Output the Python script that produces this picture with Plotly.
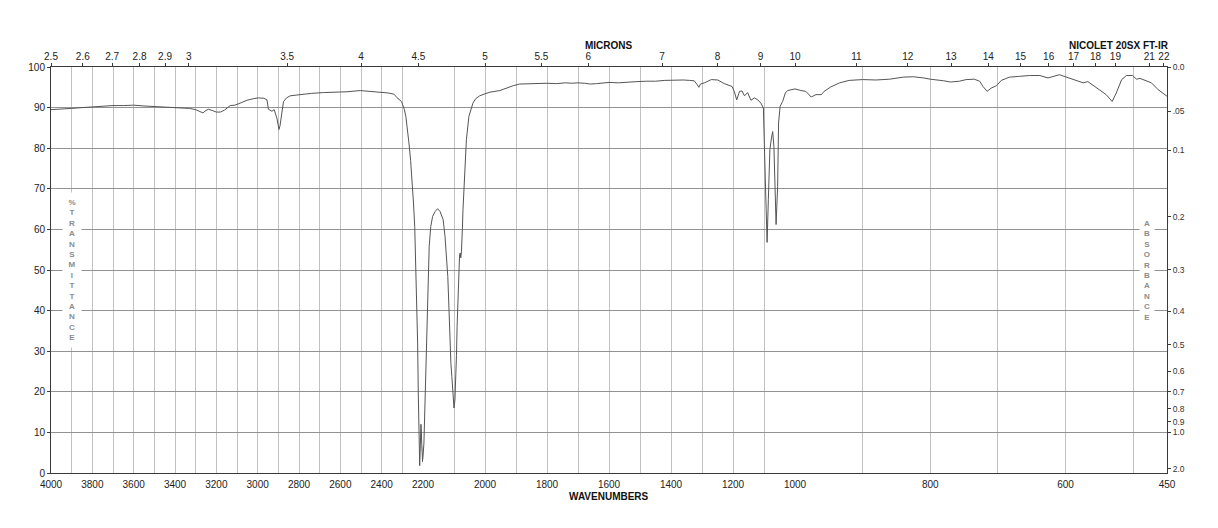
import plotly.graph_objects as go

# ---------------- data ----------------
wavenumbers = [
    4000, 3950, 3900, 3850, 3800, 3750, 3700, 3650, 3600, 3550, 3500, 3450, 3400, 3375,
    3330, 3300, 3280, 3265, 3250, 3238, 3220, 3200, 3180, 3160, 3133, 3110, 3080, 3052,
    3020, 2996, 2970, 2955, 2948, 2938, 2931, 2920, 2912, 2907, 2900, 2897, 2892, 2888,
    2880, 2875, 2860, 2843, 2810, 2778, 2740, 2682, 2620, 2568, 2504, 2450, 2408, 2380,
    2368, 2340, 2327, 2304, 2290, 2283, 2275, 2268, 2260, 2253, 2246, 2240, 2235, 2230,
    2226, 2223, 2220, 2217.5, 2216, 2214, 2212, 2210, 2208.5, 2206, 2204, 2202, 2200,
    2197, 2194, 2191, 2186, 2180, 2175, 2169, 2161, 2153, 2145, 2140, 2135, 2129, 2124,
    2120, 2116, 2113, 2110, 2107, 2103, 2100, 2097, 2095, 2092, 2090, 2087, 2085, 2082,
    2080, 2078, 2076, 2075, 2073, 2071, 2066, 2060, 2052, 2045, 2039, 2030, 2017, 2000,
    1984, 1952, 1931, 1909, 1888, 1860, 1830, 1800, 1770, 1740, 1720, 1700, 1680, 1660,
    1640, 1620, 1600, 1570, 1540, 1510, 1480, 1450, 1420, 1390, 1360, 1340, 1325, 1315,
    1310, 1305, 1292, 1270, 1249, 1228, 1210, 1203, 1196, 1188, 1179, 1171, 1163, 1153,
    1142, 1131, 1120, 1110, 1102, 1098, 1095, 1093, 1090, 1086, 1081, 1076, 1072, 1068,
    1064, 1061, 1056, 1053, 1048, 1040, 1031, 1024, 1000, 991, 984, 976, 969, 961, 957,
    947, 934, 920, 900, 880, 860, 840, 825, 810, 800, 780, 770, 757, 747, 735, 727, 722,
    716, 710, 702, 695, 683, 668, 653, 638, 626, 609, 599, 586, 574, 567, 557, 547, 540,
    531, 525, 517, 510, 501, 495, 490, 480, 473, 463, 450,
]
transmittance = [
    89.5, 89.6, 89.8, 90.0, 90.2, 90.3, 90.5, 90.5, 90.6, 90.4, 90.3, 90.1, 90.0, 89.9,
    89.8, 89.5, 89.0, 88.7, 89.3, 89.6, 89.3, 88.9, 88.9, 89.4, 90.5, 90.6, 91.2, 91.8,
    92.2, 92.4, 92.3, 91.9, 89.6, 89.2, 89.1, 89.5, 88.5, 87.4, 85.5, 84.6, 85.5, 87.0,
    90.0, 91.5, 92.4, 92.9, 93.1, 93.3, 93.5, 93.7, 93.8, 93.9, 94.2, 94.0, 93.8, 93.7,
    93.6, 93.3, 92.5, 91.5, 89.5, 87.8, 85.0, 81.3, 77.0, 72.2, 66.5, 60.7, 52.0, 44.3,
    32.0, 20.0, 9.0, 3.0, 1.8, 5.0, 10.0, 12.0, 11.0, 7.0, 3.5, 2.8, 4.0,
    7.4, 16.0, 27.9, 44.3, 55.8, 60.7, 63.2, 64.4, 65.1, 64.4, 63.5, 62.4, 58.3, 53.0,
    48.4, 40.0, 32.0, 27.0, 23.8, 19.0, 16.0, 18.0, 21.3, 29.0, 36.1, 43.0, 48.4, 53.8,
    54.2, 53.0, 54.5, 55.8, 60.0, 64.9, 74.7, 82.1, 87.8, 89.8, 91.1, 92.2, 92.9, 93.4,
    93.8, 94.2, 94.8, 95.4, 95.8, 95.9, 95.9, 96.0, 95.9, 96.1, 96.0, 96.1, 96.0, 95.8,
    95.9, 96.0, 96.2, 96.1, 96.3, 96.4, 96.5, 96.5, 96.7, 96.8, 96.8, 96.7, 96.6, 95.6,
    95.0, 95.8, 96.1, 96.9, 96.8, 95.9, 95.3, 95.2, 94.0, 91.9, 94.0, 94.1, 92.9, 93.7,
    91.8, 92.4, 91.9, 91.1, 89.9, 81.3, 70.0, 64.9, 56.8, 67.3, 79.6, 82.5, 84.1, 80.4,
    70.6, 61.2, 70.6, 86.2, 90.3, 91.5, 93.6, 94.2, 94.6, 94.2, 94.0, 92.6, 93.2, 93.2, 94.0,
    95.1, 96.1, 96.7, 96.9, 96.8, 97.0, 97.5, 97.6, 97.3, 97.0, 96.6, 96.3, 96.5, 96.9, 97.0, 96.5, 95.2,
    94.0, 94.8, 95.4, 96.7, 97.5, 97.7, 97.9, 97.9, 97.3, 98.1, 97.5, 96.7, 96.1, 96.4, 95.2, 94.0, 93.2,
    91.5, 93.6, 96.9, 97.9, 97.9, 97.0, 97.2, 96.5, 96.1, 94.4, 92.8,
]

# bottom axis: three scale segments (wavenumber ranges)
segments = [(4000, 2200), (2200, 1000), (1000, 450)]
bottom_labels = [[4000, 3800, 3600, 3400, 3200, 3000, 2800, 2600, 2400],
                 [2200, 2000, 1800, 1600, 1400, 1200, 1000],
                 [800, 600, 450]]

# top axis (microns)
micron_ticks = [[2.5, 2.6, 2.7, 2.8, 2.9, 3, 3.5, 4, 4.5],
                [5, 5.5, 6, 7, 8, 9, 10],
                [11, 12, 13, 14, 15, 16, 17, 18, 19, 21, 22]]

# right axis (absorbance)
absorbance_ticks = [0.0, 0.05, 0.1, 0.2, 0.3, 0.4, 0.5, 0.6, 0.7, 0.8, 0.9, 1.0, 2.0]
absorbance_labels = ["0.0", ".05", "0.1", "0.2", "0.3", "0.4", "0.5", "0.6", "0.7",
                     "0.8", "0.9", "1.0", "2.0"]

# ---------------- figure ----------------
FONT = "Liberation Sans, Arial, Helvetica, sans-serif"
LINE = "#555555"
AXIS = "#3a3a3a"
VGRID = "#c2c2c2"
HGRID = "#939393"

fig = go.Figure()
n = len(wavenumbers)
layout_axes = {}
for i, (hi, lo) in enumerate(segments):
    # points within the segment, plus one neighbour on each side (clipped by the axis)
    idx = [k for k in range(n) if lo <= wavenumbers[k] <= hi]
    a = max(idx[0] - 1, 0)
    b = min(idx[-1] + 1, n - 1)
    xs = wavenumbers[a:b + 1]
    ys = transmittance[a:b + 1]
    xa = "x" if i == 0 else f"x{i + 1}"
    fig.add_trace(go.Scatter(x=xs, y=ys, mode="lines", xaxis=xa, yaxis="y",
                             line=dict(color=LINE, width=1), showlegend=False,
                             hoverinfo="x+y"))
    # invisible twin on the micron (top) axis so that it is drawn
    fig.add_trace(go.Scatter(x=xs, y=ys, mode="lines", xaxis=f"x{i + 4}", yaxis="y",
                             line=dict(color="rgba(0,0,0,0)", width=0), showlegend=False,
                             hoverinfo="skip"))
    if i == 2:
        fig.add_trace(go.Scatter(x=xs, y=ys, mode="lines", xaxis="x3", yaxis="y2",
                                 line=dict(color="rgba(0,0,0,0)", width=0),
                                 showlegend=False, hoverinfo="skip"))

    dom = [i / 3, (i + 1) / 3]
    tv = list(range(hi, lo - 1, -100))
    if lo not in tv:
        tv.append(lo)
    tt = [str(v) if v in bottom_labels[i] else "" for v in tv]
    key = "xaxis" if i == 0 else f"xaxis{i + 1}"
    layout_axes[key] = dict(
        domain=dom, range=[hi, lo], anchor="y", tickmode="array", tickvals=tv,
        ticktext=tt, ticks="", showgrid=True, gridcolor=VGRID, gridwidth=1,
        showline=True, linecolor=AXIS, linewidth=1, zeroline=False,
        tickfont=dict(family=FONT, size=10, color="#222"), ticklabelstandoff=2,
    )
    mt = micron_ticks[i]
    layout_axes[f"xaxis{i + 4}"] = dict(
        overlaying=xa, side="top", anchor="y", range=[hi, lo], tickmode="array",
        tickvals=[10000.0 / m for m in mt], ticktext=[f"{m:g}" for m in mt],
        ticks="outside", ticklen=3, tickcolor=AXIS, showgrid=False, showline=True,
        linecolor=AXIS, linewidth=1, zeroline=False, ticklabelstandoff=-1,
        tickfont=dict(family=FONT, size=10, color="#222"),
    )

fig.update_layout(**layout_axes)
fig.update_layout(
    yaxis=dict(range=[0, 100], dtick=10, tick0=0, showgrid=True, gridcolor=HGRID,
               gridwidth=1, showline=True, linecolor=AXIS, linewidth=1, zeroline=False,
               ticks="outside", ticklen=3, tickcolor=AXIS, anchor="x",
               tickfont=dict(family=FONT, size=10, color="#222")),
    yaxis2=dict(range=[0, 100], overlaying="y", side="right", anchor="x3",
                tickmode="array",
                tickvals=[100 * 10 ** (-a) for a in absorbance_ticks],
                ticktext=absorbance_labels, ticks="outside", ticklen=3, tickcolor=AXIS,
                showgrid=False, showline=True, linecolor=AXIS, linewidth=1,
                zeroline=False, tickfont=dict(family=FONT, size=8.5, color="#333")),
    width=1218, height=528,
    margin=dict(l=51, r=51, t=67, b=55, autoexpand=False),
    paper_bgcolor="white", plot_bgcolor="white",
    showlegend=False,
    annotations=[
        dict(text="<b>MICRONS</b>", xref="paper", yref="paper", x=0.5, y=1.054,
             xanchor="center", yanchor="middle", showarrow=False,
             font=dict(family=FONT, size=10, color="#111")),
        dict(text="<b>NICOLET 20SX FT-IR</b>", xref="paper", yref="paper", x=1.0036,
             y=1.054, xanchor="right", yanchor="middle", showarrow=False,
             font=dict(family=FONT, size=10, color="#111")),
        dict(text="<b>WAVENUMBERS</b>", xref="paper", yref="paper", x=0.5, y=-0.058,
             xanchor="center", yanchor="middle", showarrow=False,
             font=dict(family=FONT, size=10, color="#111")),
        dict(text="<b>" + "<br>".join("%TRANSMITTANCE") + "</b>", xref="x", yref="y",
             x=3900, y=50, xanchor="center", yanchor="middle", showarrow=False,
             bgcolor="white", width=8, borderpad=5,
             font=dict(family=FONT, size=8, color="#8c8c8c")),
        dict(text="<b>" + "<br>".join("ABSORBANCE") + "</b>", xref="x3", yref="y",
             x=480, y=50, xanchor="center", yanchor="middle", showarrow=False,
             bgcolor="white", width=8, borderpad=3,
             font=dict(family=FONT, size=8, color="#8c8c8c")),
    ],
)

fig.write_html("out.html")
